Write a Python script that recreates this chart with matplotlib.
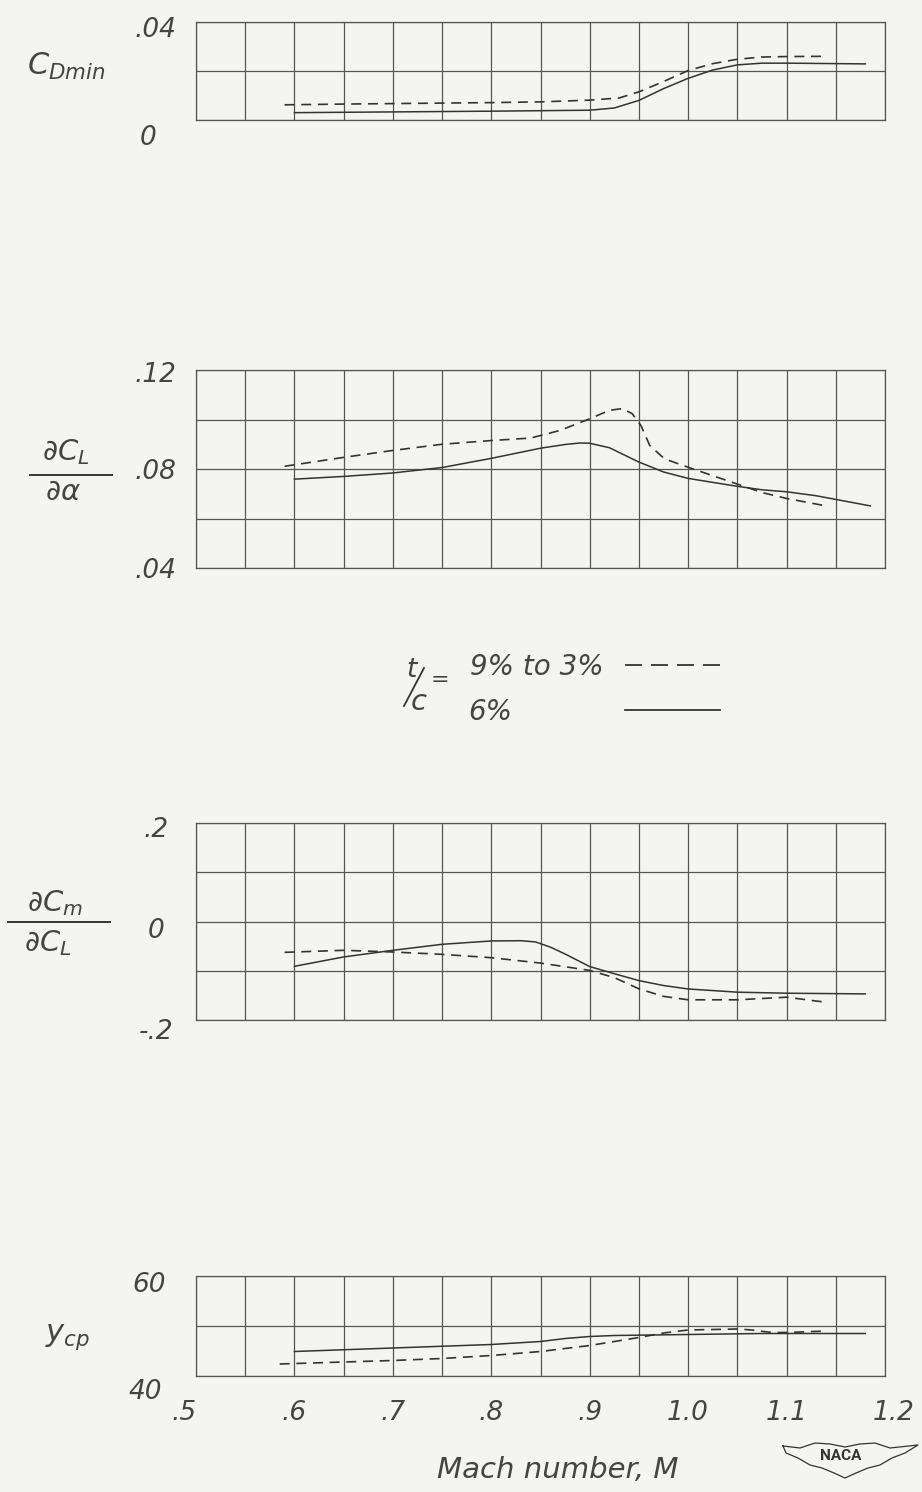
import numpy as np
import matplotlib.pyplot as plt
from matplotlib.lines import Line2D
from matplotlib.transforms import ScaledTranslation

plt.rcParams['font.family'] = ['DejaVu Sans']
plt.rcParams['font.style'] = 'oblique'
plt.rcParams['mathtext.fontset'] = 'dejavusans'

W, H = 922, 1492
ink = '#333333'
letter = '#444444'
rule = '#555555'
paper = '#f4f4f2'

# minimum drag coefficient
cd_m_thick = [0.59, 0.65, 0.70, 0.75, 0.80, 0.85, 0.90, 0.93, 0.95, 0.975, 1.0, 1.025, 1.05, 1.075, 1.10, 1.14]
cd_thick = [0.0062, 0.0065, 0.0067, 0.0069, 0.0071, 0.0074, 0.0081, 0.0090, 0.0115, 0.0157, 0.0202, 0.0230, 0.0248, 0.0257, 0.0259, 0.0260]
cd_m_six = [0.60, 0.70, 0.80, 0.90, 0.925, 0.95, 0.975, 1.0, 1.025, 1.05, 1.075, 1.10, 1.18]
cd_six = [0.0030, 0.0033, 0.0036, 0.0040, 0.0049, 0.0080, 0.0128, 0.0170, 0.0204, 0.0225, 0.0232, 0.0232, 0.0229]

# lift-curve slope
cla_m_thick = [0.59, 0.65, 0.70, 0.75, 0.80, 0.84, 0.87, 0.90, 0.92, 0.933, 0.943, 0.952, 0.961, 0.976, 1.0, 1.05, 1.075, 1.10, 1.14]
cla_thick = [0.0811, 0.0847, 0.0875, 0.0900, 0.0915, 0.0925, 0.0956, 0.1003, 0.1037, 0.1044, 0.1024, 0.0976, 0.0895, 0.0841, 0.0807, 0.0739, 0.0705, 0.0681, 0.0651]
cla_m_six = [0.60, 0.65, 0.70, 0.75, 0.80, 0.85, 0.875, 0.89, 0.90, 0.92, 0.95, 0.975, 1.0, 1.05, 1.075, 1.10, 1.13, 1.185]
cla_six = [0.0759, 0.0770, 0.0784, 0.0806, 0.0843, 0.0884, 0.0899, 0.0905, 0.0904, 0.0886, 0.0828, 0.0788, 0.0762, 0.0730, 0.0716, 0.0708, 0.0692, 0.0651]

# static stability
cmcl_m_thick = [0.59, 0.65, 0.70, 0.75, 0.80, 0.85, 0.90, 0.925, 0.95, 0.975, 1.0, 1.05, 1.10, 1.14]
cmcl_thick = [-0.0626, -0.0585, -0.0619, -0.0667, -0.0735, -0.0844, -0.0993, -0.114, -0.1367, -0.152, -0.159, -0.159, -0.1537, -0.164]
cmcl_m_six = [0.60, 0.65, 0.70, 0.75, 0.80, 0.83, 0.845, 0.86, 0.875, 0.90, 0.925, 0.95, 0.975, 1.0, 1.05, 1.10, 1.18]
cmcl_six = [-0.091, -0.072, -0.0585, -0.0463, -0.0395, -0.0390, -0.0415, -0.0520, -0.066, -0.0915, -0.106, -0.120, -0.130, -0.137, -0.1435, -0.1456, -0.147]

# spanwise center of pressure, percent semispan
ycp_m_thick = [0.585, 0.65, 0.70, 0.75, 0.80, 0.85, 0.90, 0.95, 0.975, 1.0, 1.05, 1.065, 1.085, 1.10, 1.14]
ycp_thick = [42.4, 42.8, 43.1, 43.5, 44.1, 44.9, 46.1, 47.7, 48.6, 49.2, 49.4, 49.2, 48.7, 48.7, 49.0]
ycp_m_six = [0.60, 0.70, 0.80, 0.85, 0.875, 0.90, 0.925, 1.0, 1.075, 1.18]
ycp_six = [44.9, 45.6, 46.3, 46.9, 47.5, 47.9, 48.1, 48.3, 48.5, 48.5]

mach_ticks = [0.5, 0.6, 0.7, 0.8, 0.9, 1.0, 1.1, 1.2]
mach_labels = ['.5', '.6', '.7', '.8', '.9', '1.0', '1.1', '1.2']

panels = [
    # top, bottom (px), ylim, grid step, tick values, tick labels, label nudges (px), series
    (22, 120, (0, 0.04), 0.02, [0, 0.04], ['0', '.04'], [(-8, -15), (0, -5)],
     (cd_m_thick, cd_thick, cd_m_six, cd_six)),
    (370, 568, (0.04, 0.12), 0.02, [0.04, 0.08, 0.12], ['.04', '.08', '.12'], [(0, 0), (0, 0), (0, -2)],
     (cla_m_thick, cla_thick, cla_m_six, cla_six)),
    (823, 1020, (-0.2, 0.2), 0.1, [-0.2, 0, 0.2], ['-.2', '0', '.2'], [(0, -9), (0, -6), (0, -4)],
     (cmcl_m_thick, cmcl_thick, cmcl_m_six, cmcl_six)),
    (1276, 1376, (40, 60), 10, [40, 60], ['40', '60'], [(-10, -13), (-7, -6)],
     (ycp_m_thick, ycp_thick, ycp_m_six, ycp_six)),
]

fig = plt.figure(figsize=(W / 100, H / 100), dpi=100, facecolor=paper)


def fx(x):
    return x / W


def fy(y):
    return 1 - y / H


def nudge(label, dx, dy):
    label.set_transform(label.get_transform() + ScaledTranslation(dx / 100, dy / 100, fig.dpi_scale_trans))


axes = []
for top, bot, ylim, step, yt, ytl, shifts, (m1, v1, m2, v2) in panels:
    ax = fig.add_axes([fx(196), fy(bot), (885 - 196) / W, (bot - top) / H])
    ax.set_facecolor('none')
    ax.set_xlim(0.5, 1.2)
    ax.set_ylim(*ylim)
    ax.set_xticks(np.arange(0.5, 1.2001, 0.05), minor=True)
    ax.set_xticks(mach_ticks)
    ax.set_yticks(np.arange(ylim[0], ylim[1] + step / 2, step), minor=True)
    ax.set_yticks(yt)
    ax.set_yticklabels(ytl, fontsize=19, ha='center', color=letter)
    ax.grid(True, which='both', color=rule, lw=0.9)
    ax.tick_params(which='both', length=0)
    ax.tick_params(axis='y', pad=29)
    for lab, (dx, dy) in zip(ax.get_yticklabels(), shifts):
        nudge(lab, dx, dy)
    for s in ax.spines.values():
        s.set_color(rule)
        s.set_linewidth(0.9)
    ax.plot(m1, v1, color=ink, lw=1.2, dashes=(6, 4))
    ax.plot(m2, v2, color=ink, lw=1.1)
    axes.append(ax)

for ax in axes[:-1]:
    ax.set_xticklabels([])
axes[-1].set_xticklabels(mach_labels, fontsize=19, color=letter)
axes[-1].tick_params(axis='x', pad=17)
xlabs = axes[-1].get_xticklabels()
nudge(xlabs[0], -12, 0)
nudge(xlabs[-1], 9, 0)

# axis captions on the left
fig.text(fx(66), fy(66), r'$C_{Dmin}$', fontsize=22, ha='center', va='center', color=letter)

fig.text(fx(66), fy(452), r'$\partial C_L$', fontsize=21, ha='center', va='center', color=letter)
fig.add_artist(Line2D([fx(30), fx(112)], [fy(475), fy(475)], color=ink, lw=1.4))
fig.text(fx(63), fy(492), r'$\partial \alpha$', fontsize=21, ha='center', va='center', color=letter)

fig.text(fx(55), fy(903), r'$\partial C_m$', fontsize=21, ha='center', va='center', color=letter)
fig.add_artist(Line2D([fx(8), fx(110)], [fy(922), fy(922)], color=ink, lw=1.4))
fig.text(fx(48), fy(943), r'$\partial C_L$', fontsize=21, ha='center', va='center', color=letter)

fig.text(fx(68), fy(1337), r'$y_{cp}$', fontsize=22, ha='center', va='center', color=letter)

fig.text(fx(558), fy(1470), 'Mach number, M', fontsize=21, ha='center', va='center', color=letter)

# key for the two thickness ratios
fig.text(fx(411), fy(670), 't', fontsize=19, ha='center', va='center', color=letter)
fig.add_artist(Line2D([fx(404), fx(424)], [fy(706), fy(668)], color=ink, lw=1.3))
fig.text(fx(419), fy(702), 'c', fontsize=21, ha='center', va='center', color=letter)
fig.text(fx(440), fy(680), '=', fontsize=16, ha='center', va='center', color=letter)
fig.text(fx(470), fy(667), '9% to 3%', fontsize=20, ha='left', va='center', color=letter)
fig.text(fx(468), fy(712), '6%', fontsize=20, ha='left', va='center', color=letter)
fig.add_artist(Line2D([fx(625), fx(720)], [fy(665), fy(665)], color=ink, lw=1.3, dashes=(9.4, 5)))
fig.add_artist(Line2D([fx(625), fx(720)], [fy(710), fy(710)], color=ink, lw=1.3))

# NACA wing badge
top_x = [783, 800, 815, 830, 845, 860, 875, 890, 918]
top_y = [1446, 1448, 1443, 1444, 1447, 1444, 1443, 1448, 1445]
low_x = [918, 905, 892, 880, 868, 856, 845, 834, 822, 810, 798, 786, 783]
low_y = [1445, 1453, 1458, 1465, 1468, 1473, 1478, 1473, 1468, 1465, 1458, 1453, 1446]
fig.add_artist(Line2D([fx(x) for x in top_x + low_x], [fy(y) for y in top_y + low_y],
                      color=ink, lw=0.9))
fig.text(fx(841), fy(1456), 'NACA', fontsize=11, ha='center', va='center', color=ink,
         style='normal', weight='bold', family=['Roboto', 'DejaVu Sans'])

fig.savefig('out.png', dpi=100, facecolor=paper)
